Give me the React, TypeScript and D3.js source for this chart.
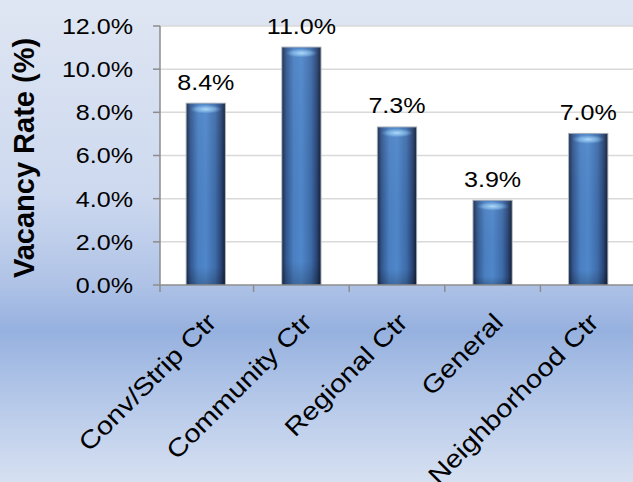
import React from 'react';
import * as d3 from 'd3';

// chart data
const categories = ['Conv/Strip Ctr', 'Community Ctr', 'Regional Ctr', 'General', 'Neighborhood Ctr'];
const vacancyRates = [8.4, 11.0, 7.3, 3.9, 7.0];
const yTicks = [0, 2, 4, 6, 8, 10, 12];

const W = 633;
const H = 482;

const App: React.FC = () => {
  const margin = { top: 26, left: 160, bottom: 285 };
  const font = '"Liberation Sans", Arial, sans-serif';

  const x = d3.scaleBand<string>().domain(categories).range([158, 636]).paddingInner(0.6).paddingOuter(0.3);
  const y = d3.scaleLinear().domain([0, 12]).range([margin.bottom, margin.top]);
  const fmt = (d: number) => `${d.toFixed(1)}%`;
  const stretch = 1.14; // text in the source is rendered a bit wide

  const boundaries = d3.range(categories.length + 1).map((i) => 158 + i * x.step());

  return (
    <svg width={W} height={H} style={{ position: 'absolute', left: 0, top: 0 }} fontFamily={font}>
      <defs>
        <linearGradient id="bg" x1="0" y1="0" x2="0" y2="1">
          <stop offset="0" stopColor="#dfe6f3" />
          <stop offset="0.4" stopColor="#cdd9ef" />
          <stop offset="0.58" stopColor="#b1c4e7" />
          <stop offset="0.685" stopColor="#96b1df" />
          <stop offset="0.85" stopColor="#b9cbea" />
          <stop offset="1" stopColor="#d6e0f1" />
        </linearGradient>
        <linearGradient id="bar" x1="0" y1="0" x2="1" y2="0">
          <stop offset="0" stopColor="#1c2f52" />
          <stop offset="0.1" stopColor="#33578d" />
          <stop offset="0.3" stopColor="#4a80c3" />
          <stop offset="0.5" stopColor="#4f87ca" />
          <stop offset="0.75" stopColor="#3e6ba9" />
          <stop offset="0.9" stopColor="#294575" />
          <stop offset="1" stopColor="#15223a" />
        </linearGradient>
        <linearGradient id="barShade" x1="0" y1="0" x2="0" y2="1">
          <stop offset="0" stopColor="#ffffff" stopOpacity="0.05" />
          <stop offset="0.9" stopColor="#000000" stopOpacity="0" />
          <stop offset="1" stopColor="#000000" stopOpacity="0.2" />
        </linearGradient>
        <radialGradient id="barTop" cx="0.5" cy="0.5" r="0.5">
          <stop offset="0" stopColor="#b5defa" stopOpacity="0.95" />
          <stop offset="0.6" stopColor="#8cc2ee" stopOpacity="0.6" />
          <stop offset="1" stopColor="#6fa6dd" stopOpacity="0" />
        </radialGradient>
      </defs>

      <rect x={0} y={0} width={W} height={H} fill="url(#bg)" />
      <rect x={margin.left} y={margin.top} width={W - margin.left} height={margin.bottom - margin.top} fill="#ffffff" />

      {/* gridlines */}
      {yTicks.filter((d) => d > 0).map((d) => (
        <line key={d} x1={margin.left} x2={W} y1={y(d)} y2={y(d)} stroke="#d9d9d9" strokeWidth={1.5} />
      ))}

      {/* bars */}
      {vacancyRates.map((v, i) => {
        const bx = x(categories[i])!;
        const bw = x.bandwidth();
        const by = y(v);
        const bh = y(0) - by;
        return (
          <g key={categories[i]}>
            <rect x={bx - 1} y={by - 1} width={bw + 2} height={bh + 1} fill="#a9b0ba" />
            <rect x={bx} y={by} width={bw} height={bh} fill="url(#bar)" />
            <rect x={bx} y={by} width={bw} height={bh} fill="url(#barShade)" />
            <rect x={bx + 3} y={by + 1} width={bw - 6} height={9} fill="url(#barTop)" />
          </g>
        );
      })}

      {/* axes */}
      <line x1={margin.left} x2={margin.left} y1={margin.top} y2={margin.bottom} stroke="#8c8c8c" strokeWidth={1.5} />
      {yTicks.map((d) => (
        <line key={d} x1={margin.left - 7} x2={margin.left} y1={y(d)} y2={y(d)} stroke="#8c8c8c" strokeWidth={1.5} />
      ))}
      <line x1={margin.left} x2={W} y1={y(0)} y2={y(0)} stroke="#8c8c8c" strokeWidth={1.5} />
      {boundaries.map((bx, i) => (
        <line key={i} x1={i === 0 ? margin.left : bx} x2={i === 0 ? margin.left : bx} y1={y(0)} y2={y(0) + 7} stroke="#8c8c8c" strokeWidth={1.5} />
      ))}

      {/* y tick labels */}
      {yTicks.map((d) => (
        <g key={d} transform={`translate(133,${y(d)}) scale(${stretch},1)`}>
          <text textAnchor="end" dy="0.36em" fontSize={22} fill="#000">
            {fmt(d)}
          </text>
        </g>
      ))}

      {/* value labels */}
      {vacancyRates.map((v, i) => (
        <g key={i} transform={`translate(${x(categories[i])! + x.bandwidth() / 2},${y(v) - 14}) scale(${stretch},1)`}>
          <text textAnchor="middle" fontSize={22} fill="#000">
            {fmt(v)}
          </text>
        </g>
      ))}

      {/* category labels */}
      {categories.map((c) => (
        <g key={c} transform={`translate(${x(c)! + x.bandwidth() / 2 + 12},324) rotate(-45) scale(1.16,1)`}>
          <text textAnchor="end" fontSize={25} fill="#000">
            {c}
          </text>
        </g>
      ))}

      {/* y axis title */}
      <text transform="translate(34,158) rotate(-90)" textAnchor="middle" fontSize={29} fontWeight="bold" fill="#000">
        Vacancy Rate (%)
      </text>
    </svg>
  );
};

export default App;
